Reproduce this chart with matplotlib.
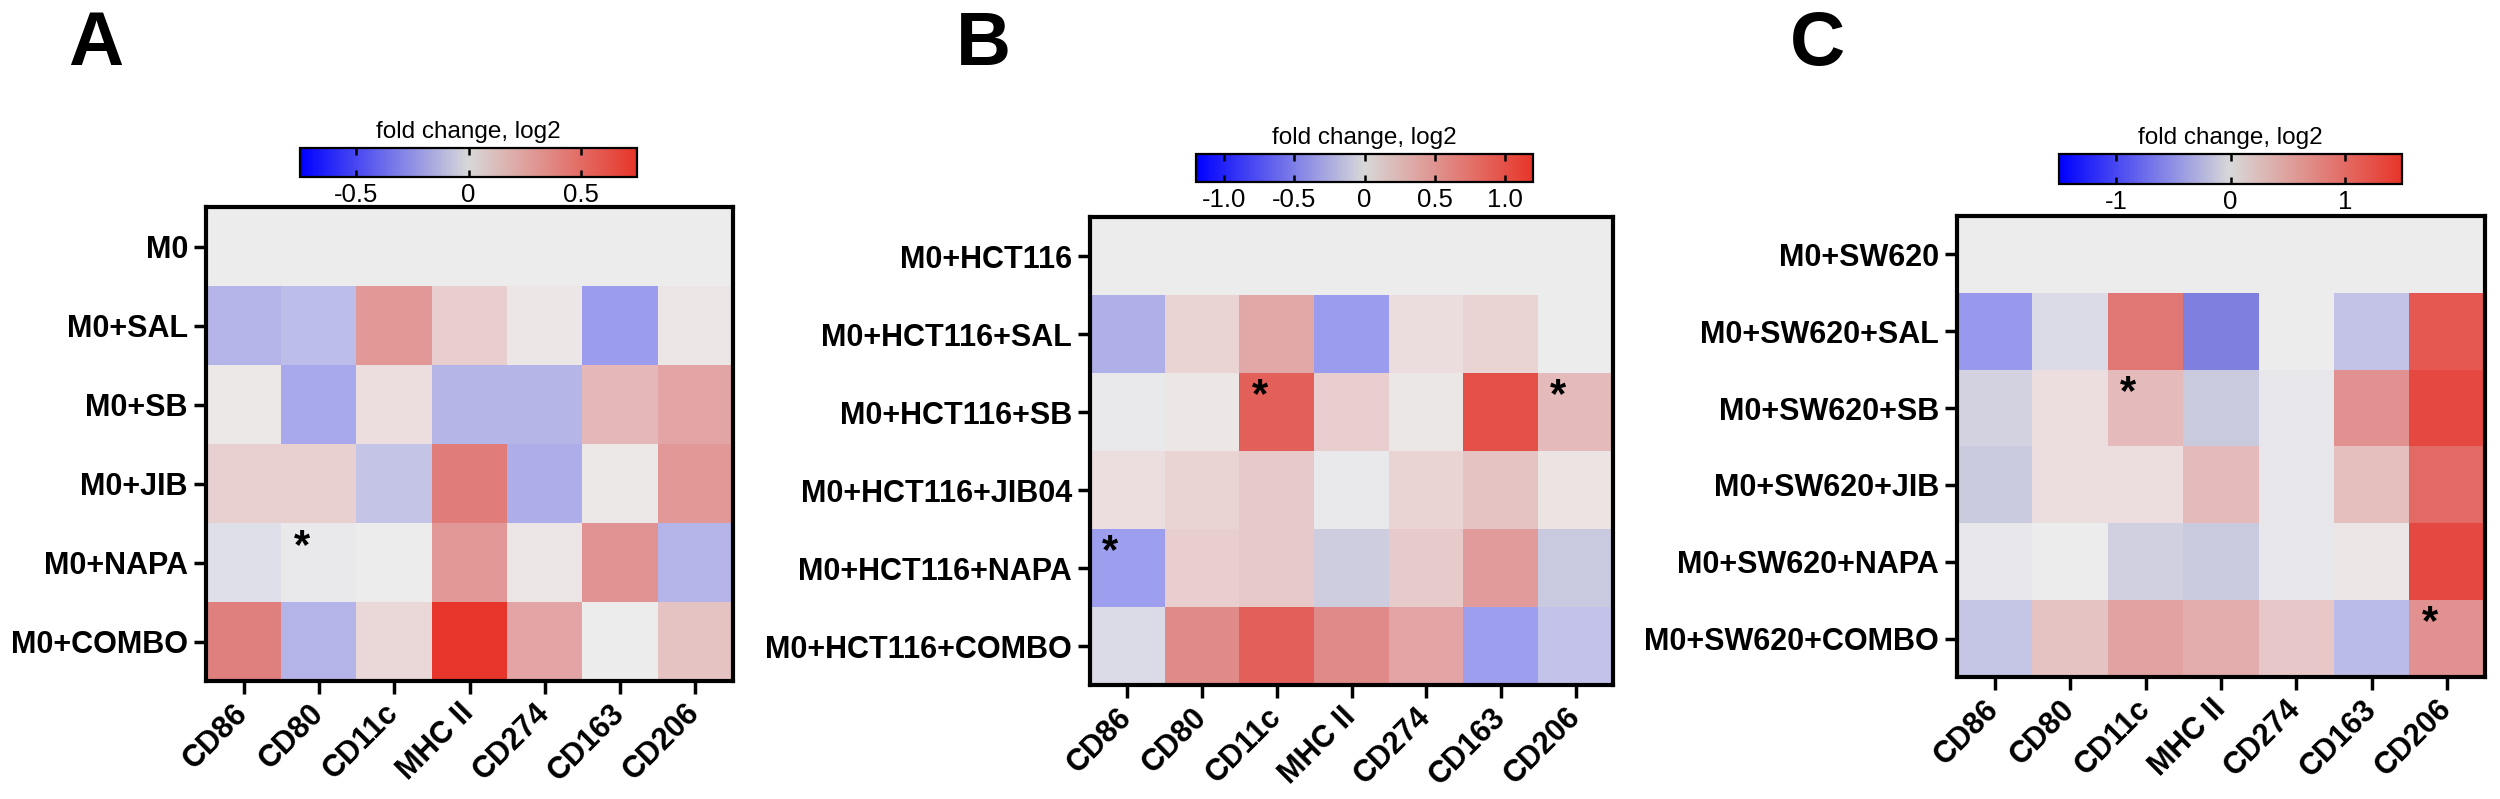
import numpy as np
import matplotlib
matplotlib.use("Agg")
import matplotlib.pyplot as plt
from matplotlib.colors import LinearSegmentedColormap, Normalize
from matplotlib.cm import ScalarMappable

plt.rcParams['font.family'] = ['Liberation Sans', 'DejaVu Sans']

# ---------------- data ----------------
markers = ["CD86", "CD80", "CD11c", "MHC II", "CD274", "CD163", "CD206"]

rows_a = ["M0", "M0+SAL", "M0+SB", "M0+JIB", "M0+NAPA", "M0+COMBO"]
vals_a = [
    [0.00, 0.00, 0.00, 0.00, 0.00, 0.00, 0.00],
    [-0.21, -0.165, 0.30, 0.15, 0.03, -0.315, 0.04],
    [0.02, -0.26, 0.075, -0.20, -0.20, 0.21, 0.26],
    [0.135, 0.135, -0.13, 0.41, -0.24, 0.02, 0.30],
    [-0.04, -0.01, 0.00, 0.30, 0.04, 0.32, -0.21],
    [0.39, -0.21, 0.105, 0.73, 0.26, 0.00, 0.18],
]
stars_a = [(4, 1)]
cbar_ticks_a = [-0.5, 0, 0.5]
cbar_labels_a = ["-0.5", "0", "0.5"]
vmax_a = 0.75

rows_b = ["M0+HCT116", "M0+HCT116+SAL", "M0+HCT116+SB", "M0+HCT116+JIB04",
          "M0+HCT116+NAPA", "M0+HCT116+COMBO"]
vals_b = [
    [0.00, 0.00, 0.00, 0.00, 0.00, 0.00, 0.00],
    [-0.36, 0.20, 0.40, -0.50, 0.13, 0.20, 0.00],
    [-0.01, 0.05, 0.86, 0.24, 0.04, 0.98, 0.32],
    [0.12, 0.20, 0.26, -0.01, 0.20, 0.29, 0.08],
    [-0.48, 0.24, 0.26, -0.14, 0.25, 0.46, -0.16],
    [-0.08, 0.56, 0.86, 0.56, 0.42, -0.48, -0.24],
]
stars_b = [(2, 2), (2, 6), (4, 0)]
cbar_ticks_b = [-1.0, -0.5, 0, 0.5, 1.0]
cbar_labels_b = ["-1.0", "-0.5", "0", "0.5", "1.0"]
vmax_b = 1.2

rows_c = ["M0+SW620", "M0+SW620+SAL", "M0+SW620+SB", "M0+SW620+JIB",
          "M0+SW620+NAPA", "M0+SW620+COMBO"]
vals_c = [
    [0.00, 0.00, 0.00, 0.00, 0.00, 0.00, 0.00],
    [-0.65, -0.10, 0.86, -0.83, 0.00, -0.27, 1.14],
    [-0.15, 0.15, 0.41, -0.19, -0.03, 0.65, 1.28],
    [-0.19, 0.15, 0.15, 0.41, -0.03, 0.38, 0.99],
    [-0.03, 0.00, -0.16, -0.19, -0.03, 0.08, 1.28],
    [-0.25, 0.36, 0.53, 0.48, 0.33, -0.36, 0.65],
]
stars_c = [(2, 2), (5, 6)]
cbar_ticks_c = [-1, 0, 1]
cbar_labels_c = ["-1", "0", "1"]
vmax_c = 1.5

panel_letters = ["A", "B", "C"]

# ---------------- styles ----------------
def c255(t):
    return tuple(v / 255 for v in t)

cell_anchors = [
    (-1.0, (0, 0, 255)), (-0.55, (128, 128, 224)), (-0.42, (156, 156, 240)),
    (-0.27, (182, 182, 232)), (-0.2, (194, 194, 234)), (-0.12, (204, 204, 222)),
    (-0.05, (224, 224, 234)), (0.0, (237, 237, 237)),
    (0.1, (236, 222, 222)), (0.2, (232, 206, 206)), (0.35, (226, 164, 164)),
    (0.5, (224, 132, 130)), (0.72, (228, 96, 90)), (0.85, (229, 74, 66)),
    (1.0, (232, 50, 40)),
]
cell_cmap = LinearSegmentedColormap.from_list(
    "cells", [((u + 1) / 2, c255(c)) for u, c in cell_anchors])
bar_cmap = LinearSegmentedColormap.from_list(
    "bar", [c255((0, 0, 255)), c255((216, 216, 216)), c255((232, 53, 42))])

W, H = 2500, 799
fig = plt.figure(figsize=(W / 100, H / 100), dpi=100)

def px_axes(x0, y0, x1, y1):
    return fig.add_axes([x0 / W, 1 - y1 / H, (x1 - x0) / W, (y1 - y0) / H])

layouts = [
    dict(heat=(206, 207, 733, 681), cbar=(300, 148, 637, 177), letter=(68, 65)),
    dict(heat=(1090, 217, 1613, 685), cbar=(1196, 154, 1533, 182), letter=(956, 65)),
    dict(heat=(1957, 216, 2485, 677), cbar=(2059, 154, 2402, 184), letter=(1790, 65)),
]

panels = [
    (rows_a, vals_a, stars_a, cbar_ticks_a, cbar_labels_a, vmax_a),
    (rows_b, vals_b, stars_b, cbar_ticks_b, cbar_labels_b, vmax_b),
    (rows_c, vals_c, stars_c, cbar_ticks_c, cbar_labels_c, vmax_c),
]

for (rows, vals, stars, cticks, clabels, vmax), lay, letter in zip(panels, layouts, panel_letters):
    norm = Normalize(vmin=-vmax, vmax=vmax)
    ax = px_axes(*lay["heat"])
    ax.imshow(np.array(vals), cmap=cell_cmap, norm=norm, aspect="auto",
              interpolation="nearest")
    ax.set_xticks(range(len(markers)))
    ax.set_xticklabels(markers, rotation=45, ha="right", va="center",
                       rotation_mode="anchor", fontsize=22, fontweight="bold")
    ax.set_yticks(range(len(rows)))
    ax.set_yticklabels(rows, fontsize=22, fontweight="bold")
    ax.tick_params(axis="x", length=9, width=2.5, pad=11)
    ax.tick_params(axis="y", length=9, width=2.5, pad=4)
    for s in ax.spines.values():
        s.set_linewidth(3)
    for r, c in stars:
        ax.text(c - 0.5 + 0.27, r - 0.5 + 0.30, "*", fontsize=30,
                fontweight="bold", ha="center", va="center")

    cax = px_axes(*lay["cbar"])
    cb = fig.colorbar(ScalarMappable(norm=norm, cmap=bar_cmap), cax=cax,
                      orientation="horizontal", ticks=cticks)
    cb.set_ticklabels(clabels)
    cb.outline.set_linewidth(1.6)
    cax.tick_params(direction="in", top=True, bottom=True, length=5, width=1.8,
                    labelsize=18.5, pad=4)
    cax.set_title("fold change, log2", fontsize=17.5, pad=7)

    lx, ly = lay["letter"]
    fig.text(lx / W, 1 - ly / H, letter, fontsize=55, fontweight="bold",
             ha="left", va="baseline")

fig.savefig("out.png", dpi=100)
